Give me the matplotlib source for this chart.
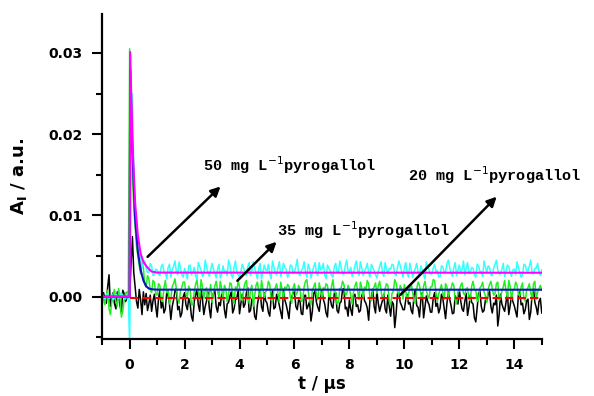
import numpy as np
import matplotlib
matplotlib.use('Agg')
import matplotlib.pyplot as plt

# time grid of the recorded traces (µs), one sample every 0.05 µs
t_us = np.linspace(-1.0, 15.0, 321)

# noisy transient traces, values in units of 1e-4 a.u. (one row = 1 µs)
trace_blank = [
    0, 5, -3, -8, 12, 27, -12, -4, 5, -9, -15, 6, 2, -11, -20, 8, 4, -6, -2, 3,
    0, 40, 74, 30, 12, -6, -14, 9, -4, -22, 6, -10, 4, -17, -9, 2, -18, -5, 3, -12,
    -25, -3, 8, -14, -6, -20, -15, 5, 2, -9, -28, -12, -4, 7, 10, -16, -12, -25, -20, 0,
    5, -10, -16, -2, -8, -24, -30, -6, 2, 9, -10, -18, 9, -3, -22, -12, -5, 6, -14, -26,
    -3, 4, 8, -12, -19, -7, -11, 3, 4, -16, -26, -9, -7, 1, 6, -20, -15, -4, -2, 8,
    -21, -8, 3, -13, -9, 5, 11, -19, -17, -3, -6, -24, -28, -10, 0, 7, -12, -18, 5, -5,
    -8, -19, -24, -2, 7, -15, -13, 3, -3, -11, -19, -27, 9, -4, -10, -18, -27, -6, -1, 5,
    6, -12, -16, -4, -5, -21, -22, 1, 2, -15, -11, -6, -30, -18, 4, 7, -7, -13, -18, -2,
    8, -3, -9, -20, -25, 0, -2, -11, -14, 4, 5, -17, -20, -8, -6, 9, 10, -15, -13, -24,
    -4, -16, -23, 2, 3, -12, -10, -19, -17, 1, 6, -5, -8, -14, -29, -3, -1, 9, -12, -20,
    7, -8, -18, -11, -5, 3, -15, -20, 2, -12, -24, -6, -9, -38, -21, 4, 4, -7, -11, -16,
    -16, -4, 3, -9, -7, -17, -21, 2, 9, -11, -13, -25, -4, 5, -26, -12, 1, -6, -10, -19,
    -19, -2, 5, -12, -8, -20, -14, 3, -2, -15, -27, -8, 6, -3, -11, -21, -20, 1, -3, -9,
    8, -5, -15, -18, -6, 4, -23, -13, 2, -7, -9, -26, -31, -14, 4, 7, -12, -19, -17, -4,
    -5, 3, 7, -12, -20, -8, -10, 2, -36, -22, 3, -9, -14, -18, -7, 5, -22, -11, 1, -6,
    -11, -18, -25, 2, 6, -10, -8, -21, -16, -5, -3, -28, -19, 3, 10, -7, -13, -22, -6, -2,
    -20]
trace_35 = [
    5, -4, -10, 2, 8, -15, -22, -6, 3, 9, -6, -12, 10, -3, -25, -18, -4, 4, 6, -2,
    305, 220, 150, 110, 85, 62, 50, 38, 28, 42, 35, 15, 12, 26, 22, 8, 5, 20, 18, 3,
    2, 16, 14, -4, -6, 11, 20, 5, 8, -9, -3, 13, 16, 22, 10, -2, -8, 7, 12, 18,
    18, 4, 0, 13, 9, -10, -10, 6, 15, 21, 6, -4, 21, 12, -2, 8, 11, -5, 4, 15,
    -7, 5, 13, 19, 8, -2, 19, 10, -4, 14, 10, -6, 2, 17, 16, 3, -9, 12, 7, 20,
    12, -2, -5, 9, 17, 20, 3, -8, 9, 14, -12, 1, 14, 18, 6, -3, 20, 10, -1, 6,
    8, 19, 15, -3, -6, 8, 11, 16, 4, -7, 18, 9, -3, 12, 9, 15, 13, -1, -8, 11,
    16, 2, 5, 14, 10, -6, -4, 12, 19, 21, 7, -5, -10, 8, 12, 17, 2, -4, 17, 9,
    -2, 11, 9, 16, 14, 0, 0, 13, 21, 5, 6, -9, -7, 10, 11, 19, 15, 2, 3, 14,
    10, 1, -9, 6, 13, 18, 7, -4, 18, 11, -1, 12, 8, 20, 16, -2, -5, 9, 12, 17,
    4, 13, 19, 8, -3, 2, 10, 16, 14, -6, -11, 4, 7, 21, 17, 6, 2, 14, 9, -3,
    15, 7, -4, 3, 11, 16, 6, -6, -8, 10, 18, 14, 3, -2, 13, 19, 8, 1, -2, 12,
    12, 21, 20, 5, -6, 3, 9, 15, 5, -3, 16, 12, -1, 8, 10, 17, 14, -4, -9, 6,
    7, 14, 17, 4, 2, 10, 11, -3, -5, 13, 19, 9, 8, -6, -3, 11, 13, 18, 6, 1,
    -7, 9, 15, 19, 10, 2, 4, 16, 18, -5, -2, 7, 12, 20, 7, -1, 20, 13, -4, 8,
    9, 18, 14, 3, 1, 12, 17, -2, -6, 8, 11, 16, 5, -4, 16, 19, -3, 6, 10, 14,
    8]
trace_50 = [
    2, 0, -3, 1, 4, -2, 0, 3, -4, -1, 3, 0, -2, 2, 5, 1, -1, -3, 2, 1,
    -60, 120, 250, 160, 95, 75, 60, 52, 48, 36, 40, 44, 35, 30, 30, 41, 38, 26, 27, 34,
    33, 28, 26, 37, 40, 31, 29, 22, 36, 40, 24, 33, 38, 44, 31, 27, 43, 35, 27, 24,
    35, 29, 22, 38, 39, 27, 30, 36, 26, 21, 42, 37, 33, 25, 28, 45, 37, 30, 25, 33,
    41, 34, 29, 23, 34, 40, 23, 28, 38, 30, 32, 26, 45, 39, 27, 23, 36, 44, 30, 27,
    24, 31, 40, 35, 31, 26, 37, 42, 26, 33, 43, 36, 29, 22, 35, 41, 22, 30, 39, 33,
    32, 40, 28, 22, 44, 37, 30, 27, 36, 43, 25, 31, 41, 36, 33, 24, 27, 39, 38, 29,
    30, 37, 46, 29, 26, 32, 35, 43, 31, 24, 40, 35, 23, 30, 37, 42, 29, 26, 42, 33,
    34, 41, 27, 22, 39, 35, 32, 26, 24, 37, 41, 30, 30, 44, 36, 28, 28, 38, 45, 32,
    31, 36, 25, 30, 38, 44, 33, 26, 43, 35, 26, 31, 35, 41, 29, 24, 40, 36, 32, 27,
    23, 31, 37, 43, 30, 25, 42, 34, 28, 35, 34, 40, 39, 28, 26, 36, 44, 38, 31, 24,
    36, 42, 29, 24, 41, 33, 24, 30, 35, 41, 30, 25, 38, 33, 27, 22, 43, 37, 33, 28,
    28, 35, 40, 31, 32, 24, 25, 38, 37, 30, 31, 41, 45, 36, 29, 25, 36, 42, 26, 33,
    39, 30, 33, 44, 27, 35, 42, 29, 30, 36, 35, 27, 24, 40, 38, 31, 31, 25, 44, 37,
    29, 38, 36, 27, 26, 35, 40, 45, 33, 28, 28, 34, 41, 25, 31, 39, 37, 30, 25, 33,
    34, 27, 43, 36, 30, 24, 27, 40, 39, 32, 32, 38, 45, 29, 28, 35, 35, 41, 31, 26,
    33]

# fitted curves (time in µs, value in a.u.)
fit50_t = [-1.0, 0.0, 0.02, 0.1, 0.2, 0.3, 0.4, 0.5, 0.6, 0.7, 0.8, 1.0, 15.0]
fit50_y = [0.0, 0.0, 0.0301, 0.019, 0.0115, 0.0075, 0.0053, 0.0043, 0.0038, 0.0034, 0.0031, 0.00297, 0.00295]
fit35_t = [-1.0, 0.0, 0.02, 0.1, 0.2, 0.3, 0.4, 0.5, 0.6, 0.7, 0.85, 1.0, 15.0]
fit35_y = [0.0, 0.0, 0.028, 0.018, 0.0095, 0.0055, 0.0033, 0.0020, 0.0013, 0.0010, 0.0009, 0.00087, 0.00086]
fit_blank_t = [0.0, 15.0]
fit_blank_y = [-0.0001, -0.0001]

labels = ['50 mg L$^{-1}$pyrogallol', '35 mg L$^{-1}$pyrogallol', '20 mg L$^{-1}$pyrogallol']
label_xy = [(2.66, 0.0162), (5.38, 0.0082), (10.15, 0.0149)]
arrow_from = [(0.58, 0.00467), (3.85, 0.00172), (9.79, 0.0)]
arrow_to = [(3.38, 0.0138), (5.42, 0.0070), (13.43, 0.01255)]

scale = 1e-4

fig = plt.figure(figsize=(5.94, 3.96), dpi=100)
ax = fig.add_axes([0.172, 0.144, 0.74, 0.821])

ax.plot(t_us, np.array(trace_blank) * scale, color='black', lw=1.1)
ax.plot(t_us, np.array(trace_35) * scale, color='#22ee22', lw=1.1)
ax.plot(t_us, np.array(trace_50) * scale, color='#33ffff', lw=1.1)
ax.plot(fit_blank_t, fit_blank_y, color='red', lw=1.5, ls=(0, (4, 2)))
ax.plot(fit35_t, fit35_y, color='#1010c0', lw=1.5)
ax.plot(fit50_t, fit50_y, color='#ff00ff', lw=1.5)

for txt, xy, p0, p1 in zip(labels, label_xy, arrow_from, arrow_to):
    ax.text(xy[0], xy[1], txt, fontsize=11, fontweight='bold',
            family=['Liberation Mono', 'DejaVu Sans Mono'], va='center', ha='left')
    ax.annotate('', xy=p1, xytext=p0,
                arrowprops=dict(arrowstyle='-|>', color='black', lw=1.8, mutation_scale=14))

ax.set_xlim(-1, 15)
ax.set_ylim(-0.0052, 0.0348)
ax.set_xticks(np.arange(0, 15, 2))
ax.set_xticks(np.arange(-1, 16, 1), minor=True)
ax.set_yticks([0.0, 0.01, 0.02, 0.03])
ax.set_yticks(np.arange(-0.005, 0.035, 0.005), minor=True)
ax.set_yticklabels(['0.00', '0.01', '0.02', '0.03'])

for s in ['top', 'right']:
    ax.spines[s].set_visible(False)
for s in ['left', 'bottom']:
    ax.spines[s].set_linewidth(1.6)
ax.tick_params(which='major', length=7, width=1.5, labelsize=10, pad=7)
ax.tick_params(which='minor', length=4, width=1.5)
for lab in ax.get_xticklabels() + ax.get_yticklabels():
    lab.set_fontweight('bold')

ax.set_xlabel('t / \u03bcs', fontsize=12, fontweight='bold', labelpad=2)
ax.set_ylabel('A$_\\mathbf{I}$ / a.u.', fontsize=13, fontweight='bold', labelpad=14)

fig.savefig('out.png', dpi=100)
